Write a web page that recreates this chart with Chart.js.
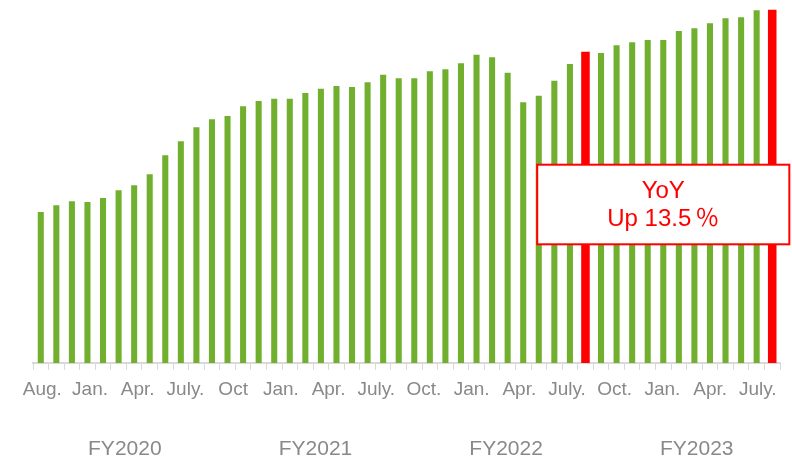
<!DOCTYPE html>
<html>
<head>
<meta charset="utf-8">
<script src="https://cdn.jsdelivr.net/npm/chart.js@4/dist/chart.umd.min.js"></script>
<style>
  html, body { margin: 0; padding: 0; background: #fff; }
  #wrap { width: 792px; height: 457px; }
</style>
</head>
<body>
<div id="wrap"><canvas id="sales_chart"></canvas></div>
<script>
// monthly categories, Aug (FY2020) .. July (FY2023)
const categories = [
  'Aug-19', 'Sep-19', 'Oct-19', 'Nov-19', 'Dec-19', 'Jan-20', 'Feb-20', 'Mar-20', 'Apr-20', 'May-20', 'Jun-20', 'Jul-20',
  'Aug-20', 'Sep-20', 'Oct-20', 'Nov-20', 'Dec-20', 'Jan-21', 'Feb-21', 'Mar-21', 'Apr-21', 'May-21', 'Jun-21', 'Jul-21',
  'Aug-21', 'Sep-21', 'Oct-21', 'Nov-21', 'Dec-21', 'Jan-22', 'Feb-22', 'Mar-22', 'Apr-22', 'May-22', 'Jun-22', 'Jul-22',
  'Aug-22', 'Sep-22', 'Oct-22', 'Nov-22', 'Dec-22', 'Jan-23', 'Feb-23', 'Mar-23', 'Apr-23', 'May-23', 'Jun-23', 'Jul-23'
];
const values = [
  151, 157.7, 161.7, 161, 165, 172.7, 177.7, 188.7, 207.7, 221.7, 235.7, 243.7,
  247, 256.7, 262, 264.3, 264.3, 270, 274.3, 277, 276, 280.7, 288.3, 284.7,
  284.7, 291.7, 293.7, 299.7, 308.3, 305.7, 290.3, 260.7, 267.3, 282.3, 299, 311.3,
  310, 317.7, 320.7, 323, 323, 332, 334.7, 339.7, 344.7, 345.7, 352.7, 353.3
];
const highlighted = ['Jul-22', 'Jul-23'];
const monthTicks = ['Aug.', 'Jan.', 'Apr.', 'July.', 'Oct', 'Jan.', 'Apr.', 'July.',
                    'Oct.', 'Jan.', 'Apr.', 'July.', 'Oct.', 'Jan.', 'Apr.', 'July.'];
const fyLabels = ['FY2020', 'FY2021', 'FY2022', 'FY2023'];

const GREEN = '#71b02f';
const RED = '#ff0000';
const GREY = '#898989';
const LINE = '#d9d9d9';
const FONT = '"Liberation Sans", Arial, sans-serif';

// month labels are spread evenly, slightly off the bar grid
const MONTH_TICK_START = 0.1;
const MONTH_TICK_STEP = 3.065;
// FY labels sit a little right of the exact 12-month centre
const FY_TICK_START = 5.4;
const FY_TICK_STEP = 12.25;

const greenData = values.map((v, i) => highlighted.includes(categories[i]) ? null : v);
const redData = values.map((v, i) => highlighted.includes(categories[i]) ? v : null);

// YoY change between the two highlighted months
const lastVal = values[categories.indexOf(highlighted[1])];
const prevVal = values[categories.indexOf(highlighted[0])];
const yoy = ((lastVal / prevVal - 1) * 100).toFixed(1);

const yoyBox = { from: 31.9, to: 48.1, top: 198.3, bottom: 118.7 };

const yoyPlugin = {
  id: 'yoyBox',
  afterDatasetsDraw(chart) {
    const { ctx, scales: { x, y } } = chart;
    const left = x.getPixelForValue(yoyBox.from);
    const right = x.getPixelForValue(yoyBox.to);
    const top = y.getPixelForValue(yoyBox.top);
    const bottom = y.getPixelForValue(yoyBox.bottom);
    ctx.save();
    ctx.fillStyle = '#fff';
    ctx.fillRect(left, top, right - left, bottom - top);
    ctx.strokeStyle = RED;
    ctx.lineWidth = 2;
    ctx.strokeRect(left, top, right - left, bottom - top);
    ctx.fillStyle = RED;
    ctx.textBaseline = 'alphabetic';
    const cx = (left + right) / 2;
    const cy = (top + bottom) / 2;
    const latin = '24px "Liberation Sans", Arial, sans-serif';
    const cjk = '24px "Noto Sans CJK JP", sans-serif';
    ctx.textAlign = 'center';
    ctx.font = latin;
    ctx.fillText('YoY', cx, cy - 7);
    // second line: latin part + wide percent sign with a small gap
    const part1 = 'Up ' + yoy;
    const part2 = '％';
    const gap = 4;
    const w1 = ctx.measureText(part1).width;
    ctx.font = cjk;
    const w2 = ctx.measureText(part2).width;
    const start = cx - (w1 + gap + w2) / 2;
    ctx.textAlign = 'left';
    ctx.font = latin;
    ctx.fillText(part1, start, cy + 21);
    ctx.font = cjk;
    ctx.fillText(part2, start + w1 + gap, cy + 21);
    ctx.restore();
  }
};

const sales_ctx = document.getElementById('sales_chart').getContext('2d');

new Chart(sales_ctx, {
  type: 'bar',
  data: {
    labels: categories,
    datasets: [{
      label: 'monthly',
      data: greenData,
      backgroundColor: GREEN,
      barPercentage: 0.39,
      categoryPercentage: 1,
      grouped: false
    }, {
      label: 'July',
      data: redData,
      backgroundColor: RED,
      barPercentage: 0.55,
      categoryPercentage: 1,
      grouped: false
    }]
  },
  options: {
    responsive: true,
    maintainAspectRatio: false,
    animation: false,
    layout: {
      // the FY axis box runs past the canvas bottom so its labels sit low
      padding: { top: 9, left: 33, right: 12, bottom: -31 }
    },
    plugins: {
      legend: { display: false },
      tooltip: { enabled: false }
    },
    scales: {
      x: {
        weight: 0,
        offset: true,
        grid: {
          offset: true,
          drawOnChartArea: false,
          drawTicks: true,
          tickLength: 7,
          color: LINE,
          lineWidth: 1
        },
        border: { color: LINE, width: 2 },
        ticks: { display: false }
      },
      x2: {
        type: 'linear',
        position: 'bottom',
        weight: 1,
        offset: false,
        min: -0.5,
        max: 47.5,
        grid: { display: false, drawTicks: false, offset: false },
        border: { display: false },
        afterBuildTicks: (axis) => {
          axis.ticks = monthTicks.map((_, k) => ({ value: MONTH_TICK_START + k * MONTH_TICK_STEP }));
        },
        ticks: {
          autoSkip: false,
          maxRotation: 0,
          padding: 8.6,
          color: GREY,
          font: { family: FONT, size: 19 },
          callback: (v, i) => monthTicks[i]
        }
      },
      x3: {
        type: 'linear',
        position: 'bottom',
        weight: 2,
        offset: false,
        min: -0.5,
        max: 47.5,
        grid: { display: false, drawTicks: false, offset: false },
        border: { display: false },
        afterBuildTicks: (axis) => {
          axis.ticks = fyLabels.map((_, k) => ({ value: FY_TICK_START + k * FY_TICK_STEP }));
        },
        ticks: {
          autoSkip: false,
          maxRotation: 0,
          padding: 28.5,
          color: GREY,
          font: { family: FONT, size: 21, lineHeight: 1 },
          callback: (v, i) => fyLabels[i]
        }
      },
      y: {
        display: false,
        min: 0,
        max: 354
      }
    }
  },
  plugins: [yoyPlugin]
});
</script>
</body>
</html>
